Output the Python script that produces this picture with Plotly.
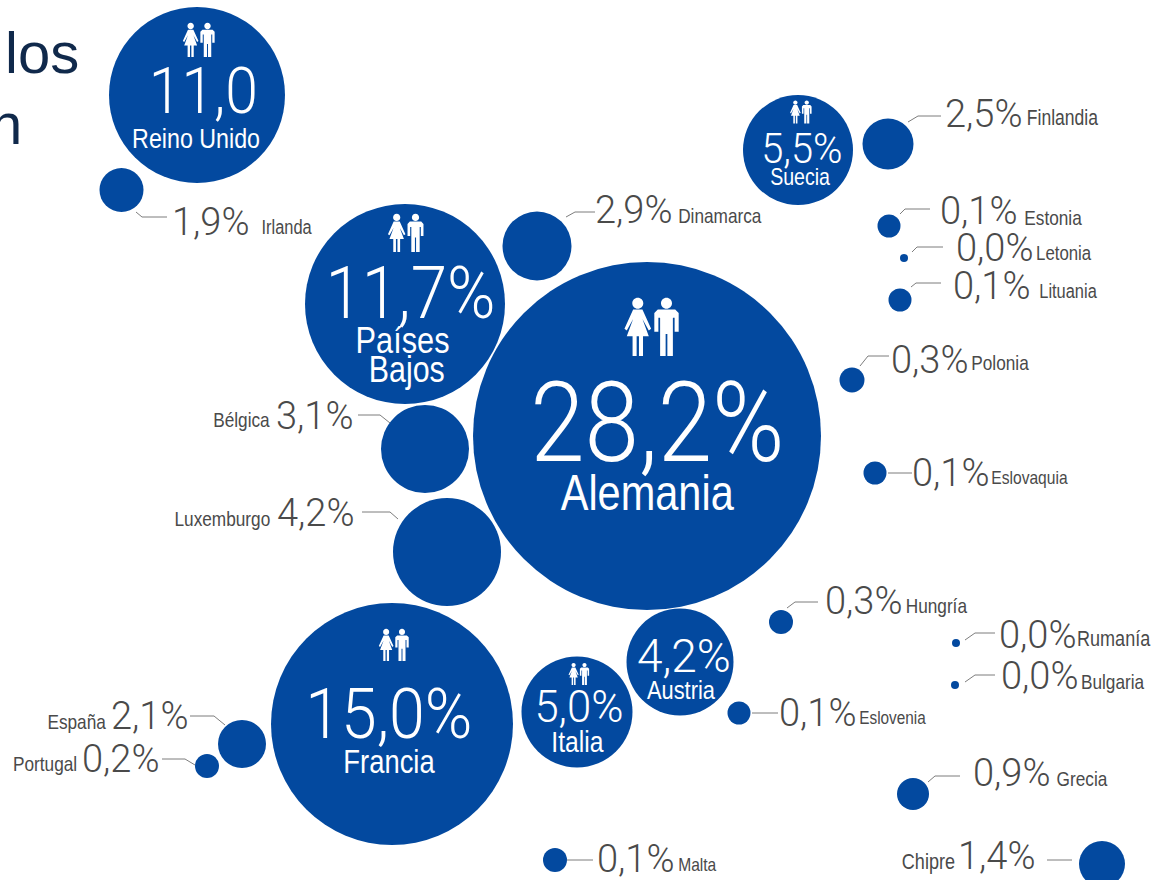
import json
import plotly.graph_objects as go

BLUE = "#03499f"
GREY = "#4a4a4a"
LIGHT = "Roboto"
SANS = "Liberation Sans"

# bubbles
names = ["Reino Unido","Irlanda","Países Bajos","Dinamarca","Alemania","Suecia","Finlandia","Estonia","Letonia","Lituania",
         "Polonia","Eslovaquia","Bélgica","Luxemburgo","Francia","Italia","Austria","Hungría","Rumanía","Bulgaria",
         "Eslovenia","España","Portugal","Grecia","Chipre","Malta"]
values = ["11,0","1,9%","11,7%","2,9%","28,2%","5,5%","2,5%","0,1%","0,0%","0,1%",
          "0,3%","0,1%","3,1%","4,2%","15,0%","5,0%","4,2%","0,3%","0,0%","0,0%",
          "0,1%","2,1%","0,2%","0,9%","1,4%","0,1%"]
cx = [197,121.5,405,537,647,798,888,889,904,900,852,875,425,447,392,577,680,781,956,955,739,242,207,913,1102,555]
cy = [95,190,304,246,436,150,144,226,258,300,380,473,449,552,724,712,662,622,643,685,713,744,766,794,864,860]
diam = [176,44,200,69,348,110,51,23,8,23,25,23,88,108,242,111,107,24,8,8,23,48,24,32,46,24]

# outside labels
out_names = ["Finlandia","Irlanda","Dinamarca","Estonia","Letonia","Lituania","Polonia","Eslovaquia","Bélgica","Luxemburgo",
             "Hungría","Rumanía","Bulgaria","Eslovenia","Grecia","España","Portugal","Chipre","Malta"]
out_pct = ["2,5%","1,9%","2,9%","0,1%","0,0%","0,1%","0,3%","0,1%","3,1%","4,2%",
           "0,3%","0,0%","0,0%","0,1%","0,9%","2,1%","0,2%","1,4%","0,1%"]
pct_x = [984,210.5,633.5,979,994.5,992,929.5,951,314.5,315.5,864,1038,1040,818,1011.5,150,121,997,636]
pct_y = [114,222,210,211,248,286,360,473,416,513,601,635,676,713,773,716,759,856,859]
name_x = [1062.5,286.5,720,1053,1063.5,1068,999.5,1029.5,241.5,222.5,936,1114,1112.5,893,1081.5,76.5,45,928.5,697]
name_y = [118,227,215,217,252,291,362,477,419,518,605,638,681,717,778,721,763,861,864]
name_sz = [21.4,20,21,21,20.5,20,21,19,21,21,21,22,21,18.7,21,21,21,22,19]

# leader lines
leaders = [
    [(908,122),(918,116),(941,116)], [(136,212),(142,217),(167,217)], [(566,217),(575,212),(595,212)],
    [(900,214),(905,209),(930,209)], [(912,252),(917,247),(943,247)], [(911,287),(916,283),(941,283)],
    [(860,366),(868,356),(889,356)], [(888,473),(912,473)], [(358,415),(380,415),(390,423)],
    [(362,512),(390,512),(398,519)], [(787,608),(795,602),(818,602)], [(965,640),(975,633),(995,633)],
    [(965,682),(975,675),(995,675)], [(752,713),(778,713)], [(928,782),(935,776),(960,776)],
    [(190,716),(214,716),(225,725)], [(162,759),(185,759),(195,765)], [(1047,860),(1072,860)], [(567,860),(593,860)],
]

# text inside bubbles
in_text = ["11,0","Reino Unido","11,7%","Países","Bajos","28,2%","Alemania","5,5%","Suecia","15,0%","Francia","5,0%","Italia","4,2%","Austria"]
in_x = [203,196,410,402,407,657,647,802,800,389,389,579,577,684,681]
in_y = [91,138,293,340,369,422,493,148,177,714,761,706,741,656,690]
in_size = [64,28,72,37,36.6,112,50,42,23.6,70,33,45,29.7,46,26.3]
in_font = [LIGHT,SANS,LIGHT,SANS,SANS,LIGHT,SANS,LIGHT,SANS,LIGHT,SANS,LIGHT,SANS,LIGHT,SANS]
in_cond = [.92,.83,.91,.83,.83,.875,.83,.95,.83,.92,.83,.97,.83,1,.83]

# people icons
icon_x = [199,406,652,801,394,579]
icon_y = [40,233,327,112,645,674]
icon_h = [34,38,58,23,32,22]

# title fragments
title_text = ["los","n"]
title_right = [79,22]
title_y = [52,123]

fig = go.Figure()

lx, ly = [], []
for pts in leaders:
    lx += [p[0] for p in pts] + [None]
    ly += [p[1] for p in pts] + [None]
fig.add_trace(go.Scatter(x=lx, y=ly, mode="lines", line=dict(color="#7d7d7d", width=1), hoverinfo="skip"))

fig.add_trace(go.Scatter(x=cx, y=cy, mode="markers", text=names, customdata=values,
                         hovertemplate="%{text}: %{customdata}<extra></extra>",
                         marker=dict(size=diam, sizemode="diameter", color=BLUE, line=dict(width=0), opacity=1)))

def circle(x, y, r):
    k = 0.5523 * r
    return (f"M{x-r},{y} C{x-r},{y-k} {x-k},{y-r} {x},{y-r} C{x+k},{y-r} {x+r},{y-k} {x+r},{y} "
            f"C{x+r},{y+k} {x+k},{y+r} {x},{y+r} C{x-k},{y+r} {x-r},{y+k} {x-r},{y} Z ")

def poly(pts):
    return "M" + " L".join(f"{a},{b}" for a, b in pts) + " Z "

def icon(x0, y0, h):
    t = y0 - h / 2
    P = lambda a, b: (x0 + a * h, t + b * h)
    w = -0.245
    m = 0.25
    d = circle(*P(w, 0.09), 0.095 * h) + circle(*P(m, 0.09), 0.095 * h)
    d += poly([P(w-0.08,0.20),P(w+0.08,0.20),P(w+0.23,0.53),P(w+0.19,0.56),P(w+0.08,0.36),P(w+0.19,0.66),P(w+0.09,0.66),
               P(w+0.09,1.0),P(w+0.02,1.0),P(w+0.02,0.66),P(w-0.02,0.66),P(w-0.02,1.0),P(w-0.09,1.0),P(w-0.09,0.66),
               P(w-0.19,0.66),P(w-0.08,0.36),P(w-0.19,0.56),P(w-0.23,0.53)])
    d += poly([P(m-0.15,0.20),P(m+0.15,0.20),P(m+0.21,0.26),P(m+0.21,0.58),P(m+0.14,0.58),P(m+0.14,0.34),P(m+0.11,0.34),
               P(m+0.11,1.0),P(m+0.015,1.0),P(m+0.015,0.62),P(m-0.015,0.62),P(m-0.015,1.0),P(m-0.11,1.0),P(m-0.11,0.34),
               P(m-0.14,0.34),P(m-0.14,0.58),P(m-0.21,0.58),P(m-0.21,0.26)])
    return d

shapes = [dict(type="path", xref="x", yref="y", path=icon(a, b, h), fillcolor="white", line=dict(width=0))
          for a, b, h in zip(icon_x, icon_y, icon_h)]

ann, squeeze = [], []
def label(text, x, y, size, family, color, xanchor="center", weight=None, cond=1.0):
    squeeze.append(cond)
    ann.append(dict(text=text, x=x, y=y, xref="x", yref="y", xanchor=xanchor, yanchor="middle", showarrow=False,
                    font=dict(size=size, family=family, color=color, weight=weight), borderpad=0, borderwidth=0))

for t, x, y in zip(out_pct, pct_x, pct_y):
    label(t, x, y, 38, LIGHT, GREY, weight=300)
for t, x, y, s in zip(out_names, name_x, name_y, name_sz):
    label(t, x, y, s, SANS, GREY, cond=.82)
for t, x, y, s, f, c in zip(in_text, in_x, in_y, in_size, in_font, in_cond):
    label(t, x, y, s, f, "white", weight=300 if f == LIGHT else None, cond=c)
for t, x, y in zip(title_text, title_right, title_y):
    label(t, x, y, 58, SANS, "#10294b", "right")

fig.update_layout(
    width=1153, height=880, margin=dict(l=0, r=0, t=0, b=0), showlegend=False,
    paper_bgcolor="white", plot_bgcolor="white", shapes=shapes, annotations=ann,
    xaxis=dict(range=[0, 1153], visible=False, fixedrange=True),
    yaxis=dict(range=[880, 0], visible=False, fixedrange=True),
)
# condense the text glyphs (no narrow font is installed)
post = """
document.body.style.margin='0';
var sq = %s;
document.querySelectorAll('.annotation').forEach(function(g){
  var i = +g.getAttribute('data-index'), t = g.querySelector('text.annotation-text');
  if (t && sq[i] < 1) {
    t.setAttribute('textLength', t.getComputedTextLength() * sq[i]);
    t.setAttribute('lengthAdjust', 'spacingAndGlyphs');
  }
});
""" % json.dumps(squeeze)
fig.write_html("out.html", post_script=post, config={"displayModeBar": False})
